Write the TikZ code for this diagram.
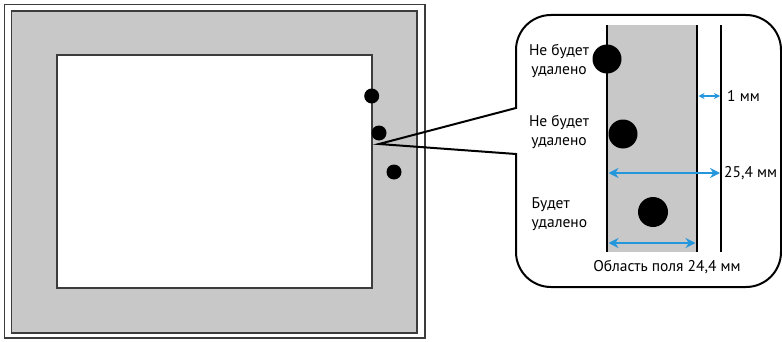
\documentclass[tikz,border=0pt]{standalone}
\usepackage{fontspec}
\setmainfont{PT Sans}
\usetikzlibrary{arrows.meta}
\definecolor{fieldgray}{RGB}{200,200,200}
\definecolor{framegray}{RGB}{60,60,60}
\definecolor{dimblue}{RGB}{35,150,220}
\begin{document}
\begin{tikzpicture}[x=1pt,y=1pt,
  lbl/.style={font=\fontsize{15.5}{18.5}\selectfont, inner sep=0pt, align=center},
  dimtext/.style={font=\fontsize{15.5}{18}\selectfont, inner sep=0pt},
  dim/.style={draw=dimblue, line width=1.8pt, {Stealth[length=10pt,width=10pt]}-{Stealth[length=10pt,width=10pt]}},
  smalldim/.style={draw=dimblue, line width=1.2pt, {Stealth[length=6pt,width=6pt]}-{Stealth[length=6pt,width=6pt]}},
  dot/.style={circle, fill=black, inner sep=0pt}]
\useasboundingbox (0,0) rectangle (782,341);
% left panel
\draw[framegray, line width=1.5pt] (4.5,3) rectangle (425,336.5);
\draw[framegray, line width=1.5pt, fill=fieldgray] (11.5,8) rectangle (417,330);
\draw[framegray, line width=1.5pt, fill=white] (57,53) rectangle (372,286);
\node[dot, minimum size=15pt] (d1) at (371.7,245) {};
\node[dot, minimum size=15pt] (d2) at (379,208) {};
\node[dot, minimum size=15pt] (d3) at (394,169) {};
% bubble
\fill[white] (516,54) [rounded corners=35pt] rectangle (781,326);
\draw[line width=2pt, line join=miter]
  (516,233) -- (379,197) -- (516,187) -- (516,89)
  arc[start angle=180, end angle=270, radius=35] -- (746,54)
  arc[start angle=270, end angle=360, radius=35] -- (781,291)
  arc[start angle=0, end angle=90, radius=35] -- (551,326)
  arc[start angle=90, end angle=180, radius=35] -- cycle;
% zoomed field
\fill[fieldgray] (607,89) rectangle (697,316);
\draw[line width=2.5pt] (607,89) -- (607,316);
\draw[line width=2.5pt] (697,89) -- (697,316);
\draw[line width=1.5pt] (721,89) -- (721,316);
\coordinate (a1l) at (698.5,245); \coordinate (a1r) at (720,245);
\coordinate (a2l) at (608.5,168); \coordinate (a2r) at (720,168);
\coordinate (a3l) at (608.5,98); \coordinate (a3r) at (695.5,98);
\node[dot, minimum size=29pt] (b1) at (607,282) {};
\node[dot, minimum size=29pt] (b2) at (623,207) {};
\node[dot, minimum size=30pt] (b3) at (653,129) {};
\draw[smalldim] (a1l) -- (a1r);
\draw[dim] (a2l) -- (a2r);
\draw[dim] (a3l) -- (a3r);
\node[dimtext, anchor=west] (t1) at (727,245) {1 мм};
\node[dimtext, anchor=west] (t2) at (724,168) {25,4 мм};
\node[dimtext] (t3) at (667,74) {Область поля 24,4 мм};
\node[lbl] (l1) at (559,280) {Не будет\\удалено};
\node[lbl] (l2) at (559,209) {Не будет\\удалено};
\node[lbl, align=left, anchor=west] (l3) at (531.5,127) {Будет\\удалено};
\end{tikzpicture}
\end{document}
